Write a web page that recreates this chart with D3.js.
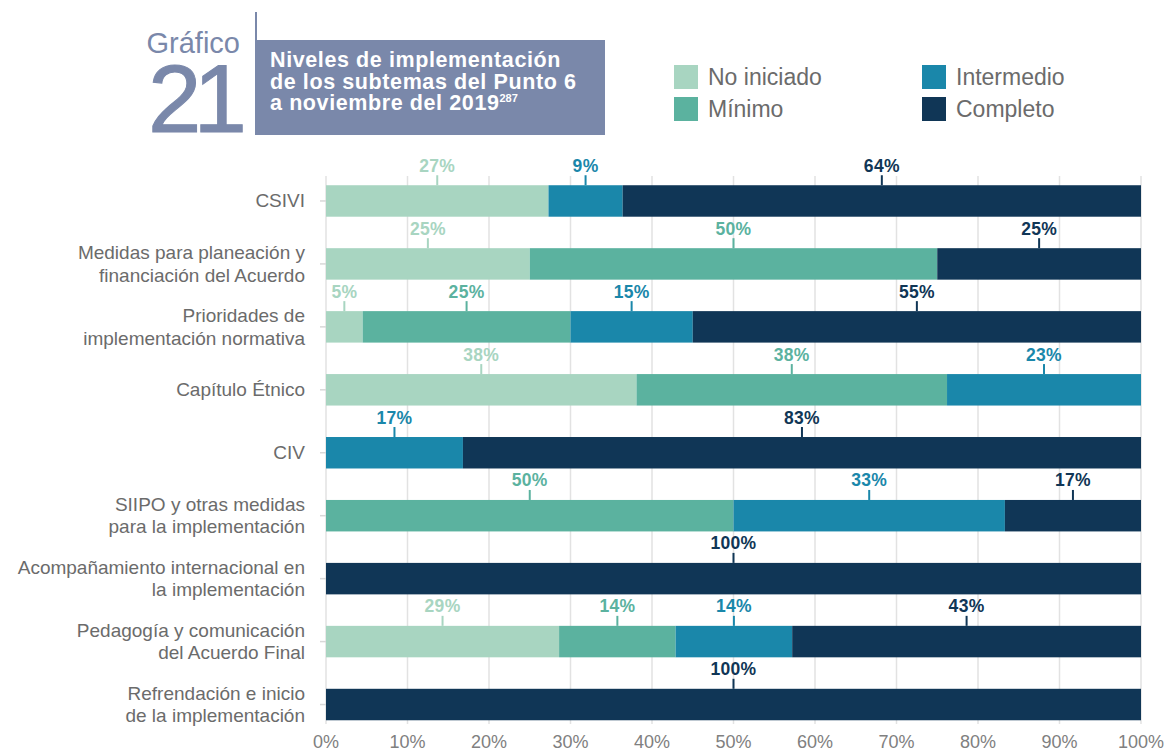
<!DOCTYPE html>
<html>
<head>
<meta charset="utf-8">
<script src="https://cdn.jsdelivr.net/npm/d3@7"></script>
<style>
  body { margin: 0; background: #fff; }
  svg { display: block; font-family: 'Liberation Sans', Arial, sans-serif; }
</style>
</head>
<body>
<div id="chart"></div>
<script>
const categories = [
  'CSIVI',
  'Medidas para planeación y\nfinanciación del Acuerdo',
  'Prioridades de\nimplementación normativa',
  'Capítulo Étnico',
  'CIV',
  'SIIPO y otras medidas\npara la implementación',
  'Acompañamiento internacional en\nla implementación',
  'Pedagogía y comunicación\ndel Acuerdo Final',
  'Refrendación e inicio\nde la implementación'
];
const series = ['No iniciado', 'Mínimo', 'Intermedio', 'Completo'];
const colors = ['#a8d5c1', '#5bb29f', '#1a87aa', '#103656'];

// bar widths (percent)
const noIniciado = [27.3, 25, 4.5, 38.1, 0, 0, 0, 28.6, 0];
const minimo     = [0, 50, 25.5, 38.1, 0, 50, 0, 14.3, 0];
const intermedio = [9.1, 0, 15, 23.8, 16.8, 33.3, 0, 14.3, 0];
const completo   = [63.6, 25, 55, 0, 83.2, 16.7, 100, 42.8, 100];

// the labels printed above each segment
const lblNoIniciado = ['27%', '25%', '5%', '38%', '', '', '', '29%', ''];
const lblMinimo     = ['', '50%', '25%', '38%', '', '50%', '', '14%', ''];
const lblIntermedio = ['9%', '', '15%', '23%', '17%', '33%', '', '14%', ''];
const lblCompleto   = ['64%', '25%', '55%', '', '83%', '17%', '100%', '43%', '100%'];

const xTicks = [0, 10, 20, 30, 40, 50, 60, 70, 80, 90, 100];

const seriesValues = [noIniciado, minimo, intermedio, completo];
const seriesLabels = [lblNoIniciado, lblMinimo, lblIntermedio, lblCompleto];

const rows = categories.map((c, i) => {
  const r = {cat: c, i: i};
  series.forEach((s, j) => r[s] = seriesValues[j][i]);
  return r;
});

const width = 1169, height = 748;
const svg = d3.select('#chart').append('svg')
  .attr('width', width).attr('height', height);

const x = d3.scaleLinear().domain([0, 100]).range([326, 1141]);
const y = d3.scaleBand().domain(categories).range([169.5, 736])
  .paddingInner(0.5).paddingOuter(0.25);

// grid
svg.append('g').selectAll('line')
  .data(xTicks).enter().append('line')
  .attr('x1', d => x(d)).attr('x2', d => x(d))
  .attr('y1', 176).attr('y2', 724)
  .attr('stroke', '#e2e2e2').attr('stroke-width', 1.5);

// little ticks on the category axis
svg.append('g').selectAll('line')
  .data(categories).enter().append('line')
  .attr('x1', 320).attr('x2', 326)
  .attr('y1', d => y(d) + y.bandwidth() / 2)
  .attr('y2', d => y(d) + y.bandwidth() / 2)
  .attr('stroke', '#d8d8d8').attr('stroke-width', 1.5);

// x axis labels (bottom edge cuts them, as in the original)
svg.append('g').selectAll('text')
  .data(xTicks).enter().append('text')
  .attr('x', d => x(d)).attr('y', 748)
  .attr('text-anchor', 'middle')
  .attr('font-size', 18).attr('fill', '#808080')
  .text(d => d + '%');

// category labels
const catG = svg.append('g').selectAll('text')
  .data(categories).enter().append('text')
  .attr('text-anchor', 'end')
  .attr('font-size', 19).attr('fill', '#6b6b6b');
catG.each(function(d) {
  const lines = d.split('\n');
  const cy = y(d) + y.bandwidth() / 2;
  const t = d3.select(this);
  lines.forEach((ln, k) => {
    t.append('tspan')
      .attr('x', 305)
      .attr('y', cy + 6.5 + (k - (lines.length - 1) / 2) * 22.5)
      .text(ln);
  });
});

// bars
const stacked = d3.stack().keys(series)(rows);
const layer = svg.append('g').selectAll('g')
  .data(stacked).enter().append('g')
  .attr('fill', (d, j) => colors[j]);

layer.selectAll('rect')
  .data(d => d).enter().append('rect')
  .attr('x', d => x(d[0]))
  .attr('width', d => x(d[1]) - x(d[0]))
  .attr('y', d => y(d.data.cat))
  .attr('height', y.bandwidth());

// value labels with a small pointer
stacked.forEach((s, j) => {
  const g = svg.append('g');
  s.forEach(d => {
    const lbl = seriesLabels[j][d.data.i];
    if (!lbl) return;
    const cx = x((d[0] + d[1]) / 2);
    const top = y(d.data.cat);
    g.append('line')
      .attr('x1', cx).attr('x2', cx)
      .attr('y1', top - 10).attr('y2', top)
      .attr('stroke', colors[j]).attr('stroke-width', 2);
    g.append('text')
      .attr('x', cx).attr('y', top - 13.5)
      .attr('text-anchor', 'middle')
      .attr('font-size', 17.5).attr('font-weight', 'bold')
      .attr('letter-spacing', 0.3)
      .attr('fill', colors[j])
      .text(lbl);
  });
});

// title block
const titleColor = '#7a88aa';
svg.append('text')
  .attr('x', 240).attr('y', 53)
  .attr('text-anchor', 'end')
  .attr('font-size', 29).attr('fill', titleColor)
  .text('Gráfico');
svg.append('text')
  .attr('x', 148).attr('y', 132)
  .attr('font-size', 96).attr('letter-spacing', -8)
  .attr('fill', titleColor)
  .attr('stroke', titleColor).attr('stroke-width', 1)
  .text('21');
svg.append('line')
  .attr('x1', 256).attr('x2', 256).attr('y1', 12).attr('y2', 135)
  .attr('stroke', titleColor).attr('stroke-width', 2);
svg.append('rect')
  .attr('x', 256).attr('y', 40).attr('width', 349).attr('height', 95)
  .attr('fill', titleColor);
const titleLines = ['Niveles de implementación', 'de los subtemas del Punto 6', 'a noviembre del 2019'];
const tt = svg.append('text')
  .attr('font-size', 21.5).attr('font-weight', 'bold')
  .attr('letter-spacing', 0.6).attr('fill', '#fff');
titleLines.forEach((ln, k) => {
  tt.append('tspan').attr('x', 270).attr('y', 67 + k * 21.7).text(ln);
});
tt.append('tspan').attr('font-size', 11).attr('letter-spacing', 0).attr('dy', -8).text('287');

// legend
const legendPos = [[674, 65], [674, 97], [922, 65], [922, 97]];
const leg = svg.append('g').selectAll('g')
  .data(series).enter().append('g')
  .attr('transform', (d, j) => `translate(${legendPos[j][0]},${legendPos[j][1]})`);
leg.append('rect')
  .attr('width', 24).attr('height', 24)
  .attr('fill', (d, j) => colors[j]);
leg.append('text')
  .attr('x', 34).attr('y', 20)
  .attr('font-size', 23).attr('fill', '#6b6b6b')
  .text(d => d);
</script>
</body>
</html>
